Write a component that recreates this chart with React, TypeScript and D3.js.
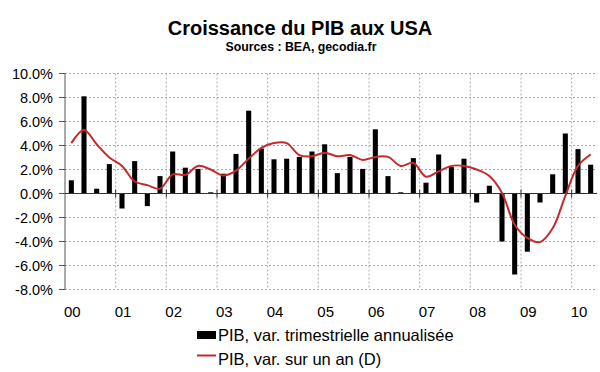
import React from "react";
import * as d3 from "d3";

const quarterLabels: string[] = [];
const years = ["00", "01", "02", "03", "04", "05", "06", "07", "08", "09", "10"];
years.forEach((y) => {
  ["T1", "T2", "T3", "T4"].forEach((q) => quarterLabels.push(`${y}${q}`));
});
const quarters = quarterLabels.slice(0, 42);

const qoqAnnualized = [
  1.1, 8.1, 0.4, 2.45, -1.25, 2.7, -1.05, 1.45, 3.5, 2.15, 2.05, 0.1, 1.65, 3.3,
  6.9, 3.75, 2.85, 2.9, 3.05, 3.5, 4.1, 1.7, 3.05, 2.05, 5.35, 1.45, 0.1, 2.95,
  0.9, 3.25, 2.2, 2.9, -0.75, 0.65, -4.0, -6.75, -4.85, -0.75, 1.6, 5.0, 3.7, 2.4,
];

const yoy = [
  4.2, 5.3, 4.1, 3.0, 2.3, 1.0, 0.7, 0.4, 1.6, 1.55, 2.3, 2.0, 1.5, 1.9, 2.9, 3.8,
  4.2, 4.2, 3.2, 3.1, 3.4, 3.1, 3.2, 2.8, 3.05, 3.05, 2.3, 2.55, 1.4, 1.85, 2.3,
  2.3, 2.0, 1.45, 0.05, -2.6, -3.7, -4.05, -2.9, -0.2, 2.3, 3.25,
];

const yTicks = [10, 8, 6, 4, 2, 0, -2, -4, -6, -8];

const FONT = "'Liberation Sans', Arial, sans-serif";

export default function App() {
  const left = 65;
  const right = 597;
  const top = 73.5;
  const bottom = 289.5;

  const x = d3
    .scaleBand<string>()
    .domain(quarters)
    .range([left, right])
    .paddingInner(0.6)
    .paddingOuter(0.3);
  const y = d3.scaleLinear().domain([-8, 10]).range([bottom, top]);
  const step = x.step();
  const bw = x.bandwidth();
  const cx = (q: string) => (x(q) as number) + bw / 2;
  const boundary = (i: number) => left + i * step;

  const line = d3
    .line<number>()
    .x((_, i) => cx(quarters[i]))
    .y((d) => y(d))
    .curve(d3.curveCatmullRom.alpha(0.5));

  const yearStarts = years.map((yr, i) => ({ yr, i: i * 4 }));

  return (
    <svg
      width={600}
      height={372}
      style={{ position: "absolute", left: 0, top: 0, background: "#fff" }}
      fontFamily={FONT}
    >
      <rect x={0} y={0} width={600} height={372} fill="#fff" />
      <text x={300} y={35} textAnchor="middle" fontSize={20} fontWeight="bold" fill="#000">
        Croissance du PIB aux USA
      </text>
      <text x={301} y={50.5} textAnchor="middle" fontSize={12.3} fontWeight="bold" fill="#000">
        Sources : BEA, gecodia.fr
      </text>

      {/* horizontal gridlines */}
      {yTicks.map((t) => (
        <line
          key={"h" + t}
          x1={left}
          x2={right}
          y1={y(t)}
          y2={y(t)}
          stroke="#a8a8a8"
          strokeWidth={1}
          strokeDasharray="2,2"
        />
      ))}
      {/* vertical gridlines */}
      {yearStarts.slice(1).map((d) => (
        <line
          key={"v" + d.yr}
          x1={boundary(d.i)}
          x2={boundary(d.i)}
          y1={top}
          y2={bottom}
          stroke="#a8a8a8"
          strokeWidth={1}
          strokeDasharray="2,2"
        />
      ))}

      {/* y axis */}
      <line x1={left} x2={left} y1={top} y2={bottom} stroke="#555" strokeWidth={1} />
      {yTicks.map((t) => (
        <g key={"yt" + t}>
          <line x1={left - 6} x2={left} y1={y(t)} y2={y(t)} stroke="#555" />
          <text
            x={53}
            y={y(t) + 5}
            textAnchor="end"
            fontSize={14.5}
            fill="#000"
          >
            {t.toFixed(1) + "%"}
          </text>
        </g>
      ))}

      {/* bars */}
      {qoqAnnualized.map((v, i) => (
        <rect
          key={"b" + i}
          x={x(quarters[i])}
          width={bw}
          y={Math.min(y(v), y(0))}
          height={Math.abs(y(v) - y(0))}
          fill="#000"
        />
      ))}

      {/* x axis */}
      <line x1={left} x2={right} y1={y(0)} y2={y(0)} stroke="#333" strokeWidth={1} />
      {yearStarts.slice(1).map((d) => (
        <line
          key={"xt" + d.yr}
          x1={boundary(d.i)}
          x2={boundary(d.i)}
          y1={y(0) - 4}
          y2={y(0) + 4}
          stroke="#333"
        />
      ))}

      {/* yoy line */}
      <path d={line(yoy) || ""} fill="none" stroke="#c42a2a" strokeWidth={2} />

      {/* x labels */}
      {yearStarts.map((d) => (
        <text
          key={"xl" + d.yr}
          x={cx(quarters[d.i]) + 1}
          y={317}
          textAnchor="middle"
          fontSize={15}
          fill="#000"
        >
          {d.yr}
        </text>
      ))}

      {/* legend */}
      <rect x={197} y={331} width={19} height={8} fill="#000" />
      <text x={218} y={340.5} fontSize={16.5} fill="#000">
        PIB, var. trimestrielle annualisée
      </text>
      <line x1={197} x2={216} y1={355.5} y2={355.5} stroke="#c42a2a" strokeWidth={2} />
      <text x={218} y={364.5} fontSize={16.5} fill="#000">
        PIB, var. sur un an (D)
      </text>
    </svg>
  );
}
